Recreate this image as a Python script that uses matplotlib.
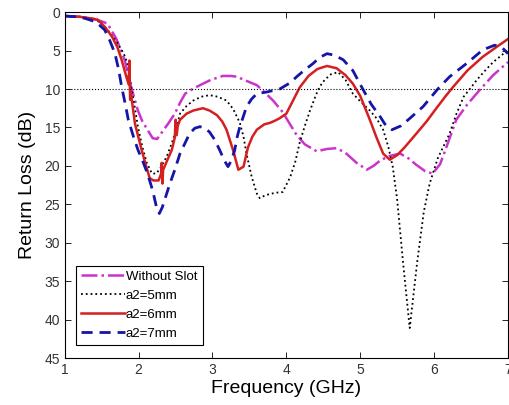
import matplotlib
matplotlib.use('Agg')
import matplotlib.pyplot as plt

plt.rcParams['font.family'] = ['Liberation Sans', 'DejaVu Sans']

# Without Slot
f_ws = [1.0, 1.2, 1.4, 1.5, 1.58, 1.7, 1.81, 1.9, 1.99, 2.05, 2.12, 2.19, 2.25, 2.31,
        2.4, 2.49, 2.56, 2.63, 2.73, 2.83, 2.98, 3.14, 3.25, 3.33, 3.45, 3.6, 3.68, 3.82,
        3.95, 4.05, 4.14, 4.25, 4.41, 4.55, 4.68, 4.8, 4.95, 5.09, 5.18, 5.27, 5.4, 5.54,
        5.65, 5.75, 5.88, 5.98, 6.08, 6.15, 6.3, 6.45, 6.62, 6.8, 7.0]
rl_ws = [0.5, 0.6, 0.9, 1.2, 1.5, 3.5, 6.2, 9.8, 12.8, 14.2, 15.3, 16.4, 16.5, 15.7,
         14.5, 13.2, 11.8, 10.6, 10.0, 9.5, 8.8, 8.3, 8.3, 8.4, 8.9, 9.5, 10.2, 11.5,
         13.0, 14.6, 16.0, 17.2, 18.1, 17.8, 17.7, 18.3, 19.6, 20.5, 20.0, 19.3, 18.7, 18.4,
         19.0, 19.8, 20.7, 21.0, 19.8, 18.0, 14.0, 12.0, 10.1, 8.2, 6.5]

# a2 = 5mm
f_5 = [1.0, 1.2, 1.4, 1.47, 1.58, 1.7, 1.8, 1.86, 1.9, 1.95, 1.99, 2.05, 2.11, 2.18,
       2.24, 2.3, 2.38, 2.45, 2.5, 2.56, 2.65, 2.74, 2.85, 2.96, 3.07, 3.19, 3.28, 3.37,
       3.42, 3.46, 3.53, 3.6, 3.64, 3.72, 3.85, 3.95, 4.05, 4.12, 4.18, 4.25, 4.32, 4.4,
       4.45, 4.52, 4.6, 4.7, 4.8, 4.9, 5.0, 5.13, 5.22, 5.31, 5.38, 5.44, 5.5, 5.58,
       5.67, 5.77, 5.86, 5.94, 6.05, 6.21, 6.3, 6.4, 6.5, 6.58, 6.7, 6.8, 6.94, 7.0]
rl_5 = [0.5, 0.6, 0.9, 1.3, 2.3, 3.8, 5.4, 7.0, 9.8, 12.5, 14.9, 17.5, 19.6, 21.0,
        21.0, 20.2, 18.8, 17.0, 15.6, 13.2, 12.2, 11.5, 11.0, 10.8, 11.0, 11.5, 12.6, 14.4,
        16.2, 18.4, 21.4, 23.6, 24.2, 23.8, 23.5, 23.4, 21.5, 19.5, 17.0, 14.8, 12.8, 10.8,
        9.7, 8.8, 8.1, 7.8, 8.8, 10.6, 11.6, 12.8, 13.8, 15.3, 17.5, 20.1, 24.4, 32.6,
        41.1, 32.6, 26.0, 22.3, 19.0, 15.8, 13.3, 11.0, 9.8, 8.8, 7.5, 6.5, 5.4, 4.8]

# a2 = 6mm
f_6 = [1.0, 1.2, 1.35, 1.45, 1.55, 1.64, 1.71, 1.77, 1.83, 1.865, 1.875, 1.885, 1.895,
       1.95, 2.04, 2.1, 2.15, 2.2, 2.27, 2.305, 2.312, 2.322, 2.332, 2.4, 2.45, 2.49,
       2.50, 2.515, 2.53, 2.56, 2.65, 2.74, 2.87, 2.96, 3.06, 3.13, 3.19, 3.28, 3.35,
       3.42, 3.48, 3.54, 3.6, 3.7, 3.78, 3.85, 3.91, 4.0, 4.09, 4.18, 4.3, 4.42, 4.55,
       4.68, 4.8, 4.9, 5.0, 5.13, 5.22, 5.31, 5.4, 5.5, 5.6, 5.76, 5.9, 6.0, 6.15, 6.26,
       6.45, 6.66, 6.85, 7.0]
rl_6 = [0.5, 0.6, 0.8, 1.0, 2.0, 3.2, 4.5, 6.2, 8.3, 9.4, 6.3, 11.4, 10.5,
        14.5, 17.9, 20.0, 21.6, 21.9, 21.9, 21.0, 19.6, 22.3, 20.5, 19.0, 17.9, 16.3,
        14.0, 16.0, 14.8, 14.0, 13.2, 12.8, 12.5, 12.8, 13.4, 14.2, 15.3, 18.0, 20.5,
        20.1, 17.6, 16.2, 15.3, 14.6, 14.4, 14.1, 13.8, 13.2, 11.5, 9.8, 8.3, 7.4, 7.0,
        7.3, 8.2, 9.3, 10.9, 14.0, 16.3, 18.4, 19.2, 18.6, 17.6, 15.8, 14.2, 12.9, 11.0, 9.7,
        7.6, 5.8, 4.5, 3.5]

# a2 = 7mm
f_7 = [1.0, 1.15, 1.27, 1.4, 1.47, 1.54, 1.61, 1.68, 1.73, 1.77, 1.82, 1.86, 1.93,
       1.99, 2.06, 2.12, 2.19, 2.24, 2.28, 2.32, 2.35, 2.42, 2.49, 2.56, 2.63, 2.69,
       2.76, 2.83, 2.9, 2.96, 3.03, 3.1, 3.16, 3.21, 3.25, 3.3, 3.33, 3.37, 3.42, 3.46,
       3.53, 3.6, 3.73, 3.82, 3.91, 4.05, 4.14, 4.25, 4.36, 4.45, 4.55, 4.65, 4.77, 4.9,
       5.04, 5.15, 5.27, 5.35, 5.43, 5.55, 5.65, 5.85, 6.05, 6.21, 6.45, 6.66, 6.82,
       6.92, 7.0]
rl_7 = [0.5, 0.6, 0.8, 1.2, 1.7, 2.3, 3.7, 5.4, 7.5, 9.7, 12.0, 14.0, 16.2,
        17.9, 19.5, 21.0, 23.2, 25.3, 26.2, 25.4, 24.5, 22.4, 20.5, 18.4, 17.0, 15.8,
        15.1, 14.9, 15.1, 15.6, 16.6, 18.0, 19.3, 20.1, 19.4, 18.0, 16.4, 14.9, 13.5, 12.3,
        11.3, 10.6, 10.4, 10.2, 10.0, 9.2, 8.4, 7.5, 6.7, 5.9, 5.4, 5.6, 6.2, 7.6,
        10.1, 12.0, 13.6, 14.8, 15.3, 14.8, 14.0, 12.3, 10.0, 8.4, 6.6, 4.9, 4.3,
        4.6, 5.4]

fig = plt.figure(figsize=(5.1, 4.05), dpi=100)
ax = fig.add_axes([0.127, 0.116, 0.869, 0.854])

ax.plot(f_ws, rl_ws, color='#cc33cc', linestyle='-.', linewidth=1.8, label='Without Slot')
ax.plot(f_5, rl_5, color='black', linestyle=':', linewidth=1.3, label='a2=5mm')
ax.plot(f_6, rl_6, color='#d42020', linestyle='-', linewidth=1.8, label='a2=6mm')
ax.plot(f_7, rl_7, color='#1515a8', linestyle='--', linewidth=2.0, dashes=(4, 2.5), label='a2=7mm')
ax.axhline(10, color='black', linestyle=':', linewidth=0.8)

ax.set_xlim(1, 7)
ax.set_ylim(45, 0)
ax.set_xticks(range(1, 8))
ax.set_yticks(range(0, 50, 5))
ax.tick_params(direction='in', top=True, right=True, length=4, labelsize=10,
               labelcolor='#333333', width=0.6)
for s in ax.spines.values():
    s.set_linewidth(0.8)

ax.set_xlabel('Frequency (GHz)', fontsize=14, labelpad=2)
ax.set_ylabel('Return Loss (dB)', fontsize=14, labelpad=6)

leg = ax.legend(loc='lower left', bbox_to_anchor=(0.025, 0.038), fontsize=9.5,
                handlelength=3.3, handletextpad=0.1, labelspacing=0.5,
                borderpad=0.4, fancybox=False, framealpha=1, borderaxespad=0)
leg.get_frame().set_edgecolor('black')
leg.get_frame().set_linewidth(0.8)

fig.savefig('out.png', dpi=100)
